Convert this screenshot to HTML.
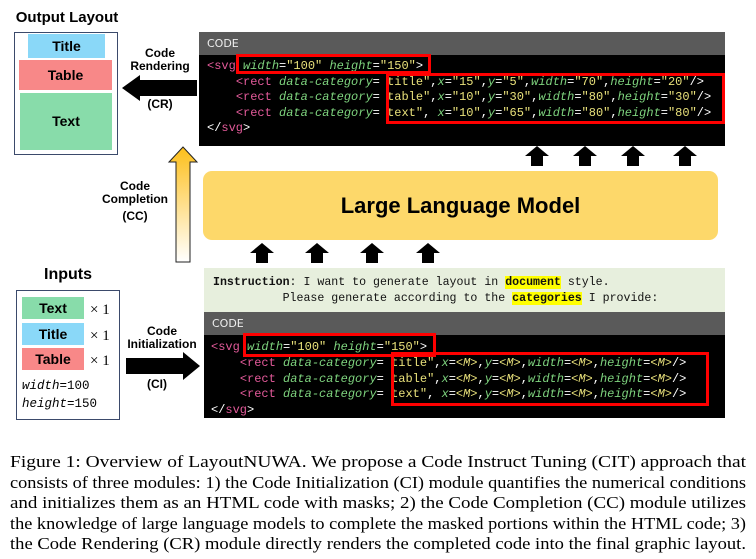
<!DOCTYPE html>
<html><head><meta charset="utf-8"><style>
body{margin:0;width:756px;height:559px;background:#fff;position:relative;overflow:hidden;font-family:"Liberation Sans",sans-serif}
.a{position:absolute}
.code{font-family:"Liberation Mono",monospace;font-size:12px;white-space:pre;color:#fff;line-height:15.6px}
.t{color:#e35a9a}.n{color:#7ed37e;font-style:italic}.s{color:#e8e07a}
.hd{background:#5a5a5a;color:#eee;font-size:11px;font-family:"DejaVu Sans",sans-serif;padding-left:8px;box-sizing:border-box}
.rb{position:absolute;border:3px solid #f00;box-sizing:border-box}
.chip{position:absolute;font-weight:bold;text-align:center;font-size:14px}
.lbl{position:absolute;font-weight:bold;font-size:12px;text-align:center;line-height:13px}
</style></head><body>
<!-- Output layout -->
<div class="a" style="left:14px;top:9px;width:106px;text-align:center;font-weight:bold;font-size:15px">Output Layout</div>
<div class="a" style="left:14px;top:32px;width:104px;height:123px;border:1.5px solid #3b4a6b;box-sizing:border-box"></div>
<div class="chip" style="left:28px;top:34px;width:77px;height:24px;line-height:24px;background:#8ad8f8">Title</div>
<div class="chip" style="left:19px;top:60px;width:93px;height:30px;line-height:30px;background:#f88888">Table</div>
<div class="chip" style="left:20px;top:93px;width:92px;height:57px;line-height:57px;background:#88dcaa">Text</div>
<!-- CR arrow -->
<div class="lbl" style="left:122px;top:47px;width:76px">Code<br>Rendering</div>
<div class="lbl" style="left:122px;top:98px;width:76px">(CR)</div>
<svg class="a" style="left:0;top:0" width="756" height="559">
<defs><linearGradient id="g" x1="0" y1="1" x2="0" y2="0"><stop offset="0" stop-color="#fff"/><stop offset="1" stop-color="#fdbf1a"/></linearGradient></defs>
<polygon points="197,80 140,80 140,75 122,88 140,101 140,96 197,96" fill="#000"/>
<polygon points="126,358 183,358 183,352 200,366 183,380 183,374 126,374" fill="#000"/>
<polygon points="176,262 190,262 190,162 197,162 183,147 169,162 176,162" fill="url(#g)" stroke="#222" stroke-width="1"/>
<g fill="#000">
<polygon points="537,146 549,156 543,156 543,166 531,166 531,156 525,156"/>
<polygon points="585,146 597,156 591,156 591,166 579,166 579,156 573,156"/>
<polygon points="633,146 645,156 639,156 639,166 627,166 627,156 621,156"/>
<polygon points="685,146 697,156 691,156 691,166 679,166 679,156 673,156"/>
<polygon points="262,243 274,253 268,253 268,263 256,263 256,253 250,253"/>
<polygon points="317,243 329,253 323,253 323,263 311,263 311,253 305,253"/>
<polygon points="372,243 384,253 378,253 378,263 366,263 366,253 360,253"/>
<polygon points="428,243 440,253 434,253 434,263 422,263 422,253 416,253"/>
</g>
<g font-family="Liberation Serif,serif" font-size="17" fill="#000">
<text x="10" y="467" textLength="736" lengthAdjust="spacingAndGlyphs">Figure 1:  Overview of LayoutNUWA. We propose a Code Instruct Tuning (CIT) approach that</text>
<text x="10" y="488" textLength="736" lengthAdjust="spacingAndGlyphs">consists of three modules: 1) the Code Initialization (CI) module quantifies the numerical conditions</text>
<text x="10" y="508" textLength="736" lengthAdjust="spacingAndGlyphs">and initializes them as an HTML code with masks; 2) the Code Completion (CC) module utilizes</text>
<text x="10" y="529" textLength="736" lengthAdjust="spacingAndGlyphs">the knowledge of large language models to complete the masked portions within the HTML code; 3)</text>
<text x="10" y="549" textLength="736" lengthAdjust="spacingAndGlyphs">the Code Rendering (CR) module directly renders the completed code into the final graphic layout.</text>
</g>
</svg>
<div class="lbl" style="left:100px;top:180px;width:70px">Code<br>Completion<br><span style="line-height:20px">(CC)</span></div>
<!-- top code -->
<div class="a hd" style="left:199px;top:32px;width:526px;height:23px;line-height:23px">CODE</div>
<div class="a code" style="left:199px;top:55px;width:526px;height:91px;background:#000;padding:4px 0 0 8px;box-sizing:border-box"><span class="t">&lt;svg</span> <span class="n">width</span>=<span class="s">"100"</span> <span class="n">height</span>=<span class="s">"150"</span>&gt;
    <span class="t">&lt;rect</span> <span class="n">data-category</span>= <span class="s">title"</span>,<span class="n">x</span>=<span class="s">"15"</span>,<span class="n">y</span>=<span class="s">"5"</span>,<span class="n">width</span>=<span class="s">"70"</span>,<span class="n">height</span>=<span class="s">"20"</span>/&gt;
    <span class="t">&lt;rect</span> <span class="n">data-category</span>= <span class="s">table"</span>,<span class="n">x</span>=<span class="s">"10"</span>,<span class="n">y</span>=<span class="s">"30"</span>,<span class="n">width</span>=<span class="s">"80"</span>,<span class="n">height</span>=<span class="s">"30"</span>/&gt;
    <span class="t">&lt;rect</span> <span class="n">data-category</span>= <span class="s">text"</span>, <span class="n">x</span>=<span class="s">"10"</span>,<span class="n">y</span>=<span class="s">"65"</span>,<span class="n">width</span>=<span class="s">"80"</span>,<span class="n">height</span>=<span class="s">"80"</span>/&gt;
&lt;/<span class="t">svg</span>&gt;</div>
<div class="rb" style="left:236px;top:54px;width:195px;height:20px"></div>
<div class="rb" style="left:386px;top:73px;width:339px;height:51px"></div>
<!-- LLM -->
<div class="a" style="left:203px;top:171px;width:515px;height:69px;background:#fdd86a;border-radius:9px;text-align:center;line-height:69px;font-weight:bold;font-size:22px">Large Language Model</div>
<!-- instruction -->
<div class="a code" style="left:204px;top:268px;width:521px;height:44px;background:#e7efdd;color:#111;padding:7px 0 0 9px;box-sizing:border-box;font-size:11.6px;line-height:16px"><b>Instruction</b>: I want to generate layout in <b style="background:#ff0">document</b> style.
          Please generate according to the <b style="background:#ff0">categories</b> I provide:</div>
<div class="a hd" style="left:204px;top:312px;width:521px;height:23px;line-height:23px">CODE</div>
<div class="a code" style="left:204px;top:335px;width:521px;height:83px;background:#000;padding:5px 0 0 7px;box-sizing:border-box;line-height:15.8px"><span class="t">&lt;svg</span> <span class="n">width</span>=<span class="s">"100"</span> <span class="n">height</span>=<span class="s">"150"</span>&gt;
    <span class="t">&lt;rect</span> <span class="n">data-category</span>= <span class="s">title"</span>,<span class="n">x</span>=<span class="s">&lt;<i>M</i>&gt;</span>,<span class="n">y</span>=<span class="s">&lt;<i>M</i>&gt;</span>,<span class="n">width</span>=<span class="s">&lt;<i>M</i>&gt;</span>,<span class="n">height</span>=<span class="s">&lt;<i>M</i>&gt;</span>/&gt;
    <span class="t">&lt;rect</span> <span class="n">data-category</span>= <span class="s">table"</span>,<span class="n">x</span>=<span class="s">&lt;<i>M</i>&gt;</span>,<span class="n">y</span>=<span class="s">&lt;<i>M</i>&gt;</span>,<span class="n">width</span>=<span class="s">&lt;<i>M</i>&gt;</span>,<span class="n">height</span>=<span class="s">&lt;<i>M</i>&gt;</span>/&gt;
    <span class="t">&lt;rect</span> <span class="n">data-category</span>= <span class="s">text"</span>, <span class="n">x</span>=<span class="s">&lt;<i>M</i>&gt;</span>,<span class="n">y</span>=<span class="s">&lt;<i>M</i>&gt;</span>,<span class="n">width</span>=<span class="s">&lt;<i>M</i>&gt;</span>,<span class="n">height</span>=<span class="s">&lt;<i>M</i>&gt;</span>/&gt;
&lt;/<span class="t">svg</span>&gt;</div>
<div class="rb" style="left:243px;top:333px;width:193px;height:24px"></div>
<div class="rb" style="left:391px;top:352px;width:318px;height:54px"></div>
<!-- Inputs -->
<div class="a" style="left:16px;top:266px;width:104px;text-align:center;font-weight:bold;font-size:16px">Inputs</div>
<div class="a" style="left:16px;top:290px;width:104px;height:130px;border:1.5px solid #3b4a6b;box-sizing:border-box"></div>
<div class="chip" style="left:22px;top:297px;width:62px;height:22px;line-height:22px;background:#88dcaa">Text</div>
<div class="chip" style="left:22px;top:323px;width:62px;height:22px;line-height:22px;background:#8ad8f8">Title</div>
<div class="chip" style="left:22px;top:348px;width:62px;height:22px;line-height:22px;background:#f88888">Table</div>
<div class="a" style="left:90px;top:298px;font-size:15px;font-family:'Liberation Serif',serif;line-height:25.5px">× 1<br>× 1<br>× 1</div>
<div class="a code" style="left:22px;top:377px;color:#000;font-size:12.5px;line-height:18px"><i>width</i>=100
<i>height</i>=150</div>
<div class="lbl" style="left:122px;top:325px;width:80px">Code<br>Initialization</div>
<div class="lbl" style="left:122px;top:378px;width:70px">(CI)</div>
</body></html>
